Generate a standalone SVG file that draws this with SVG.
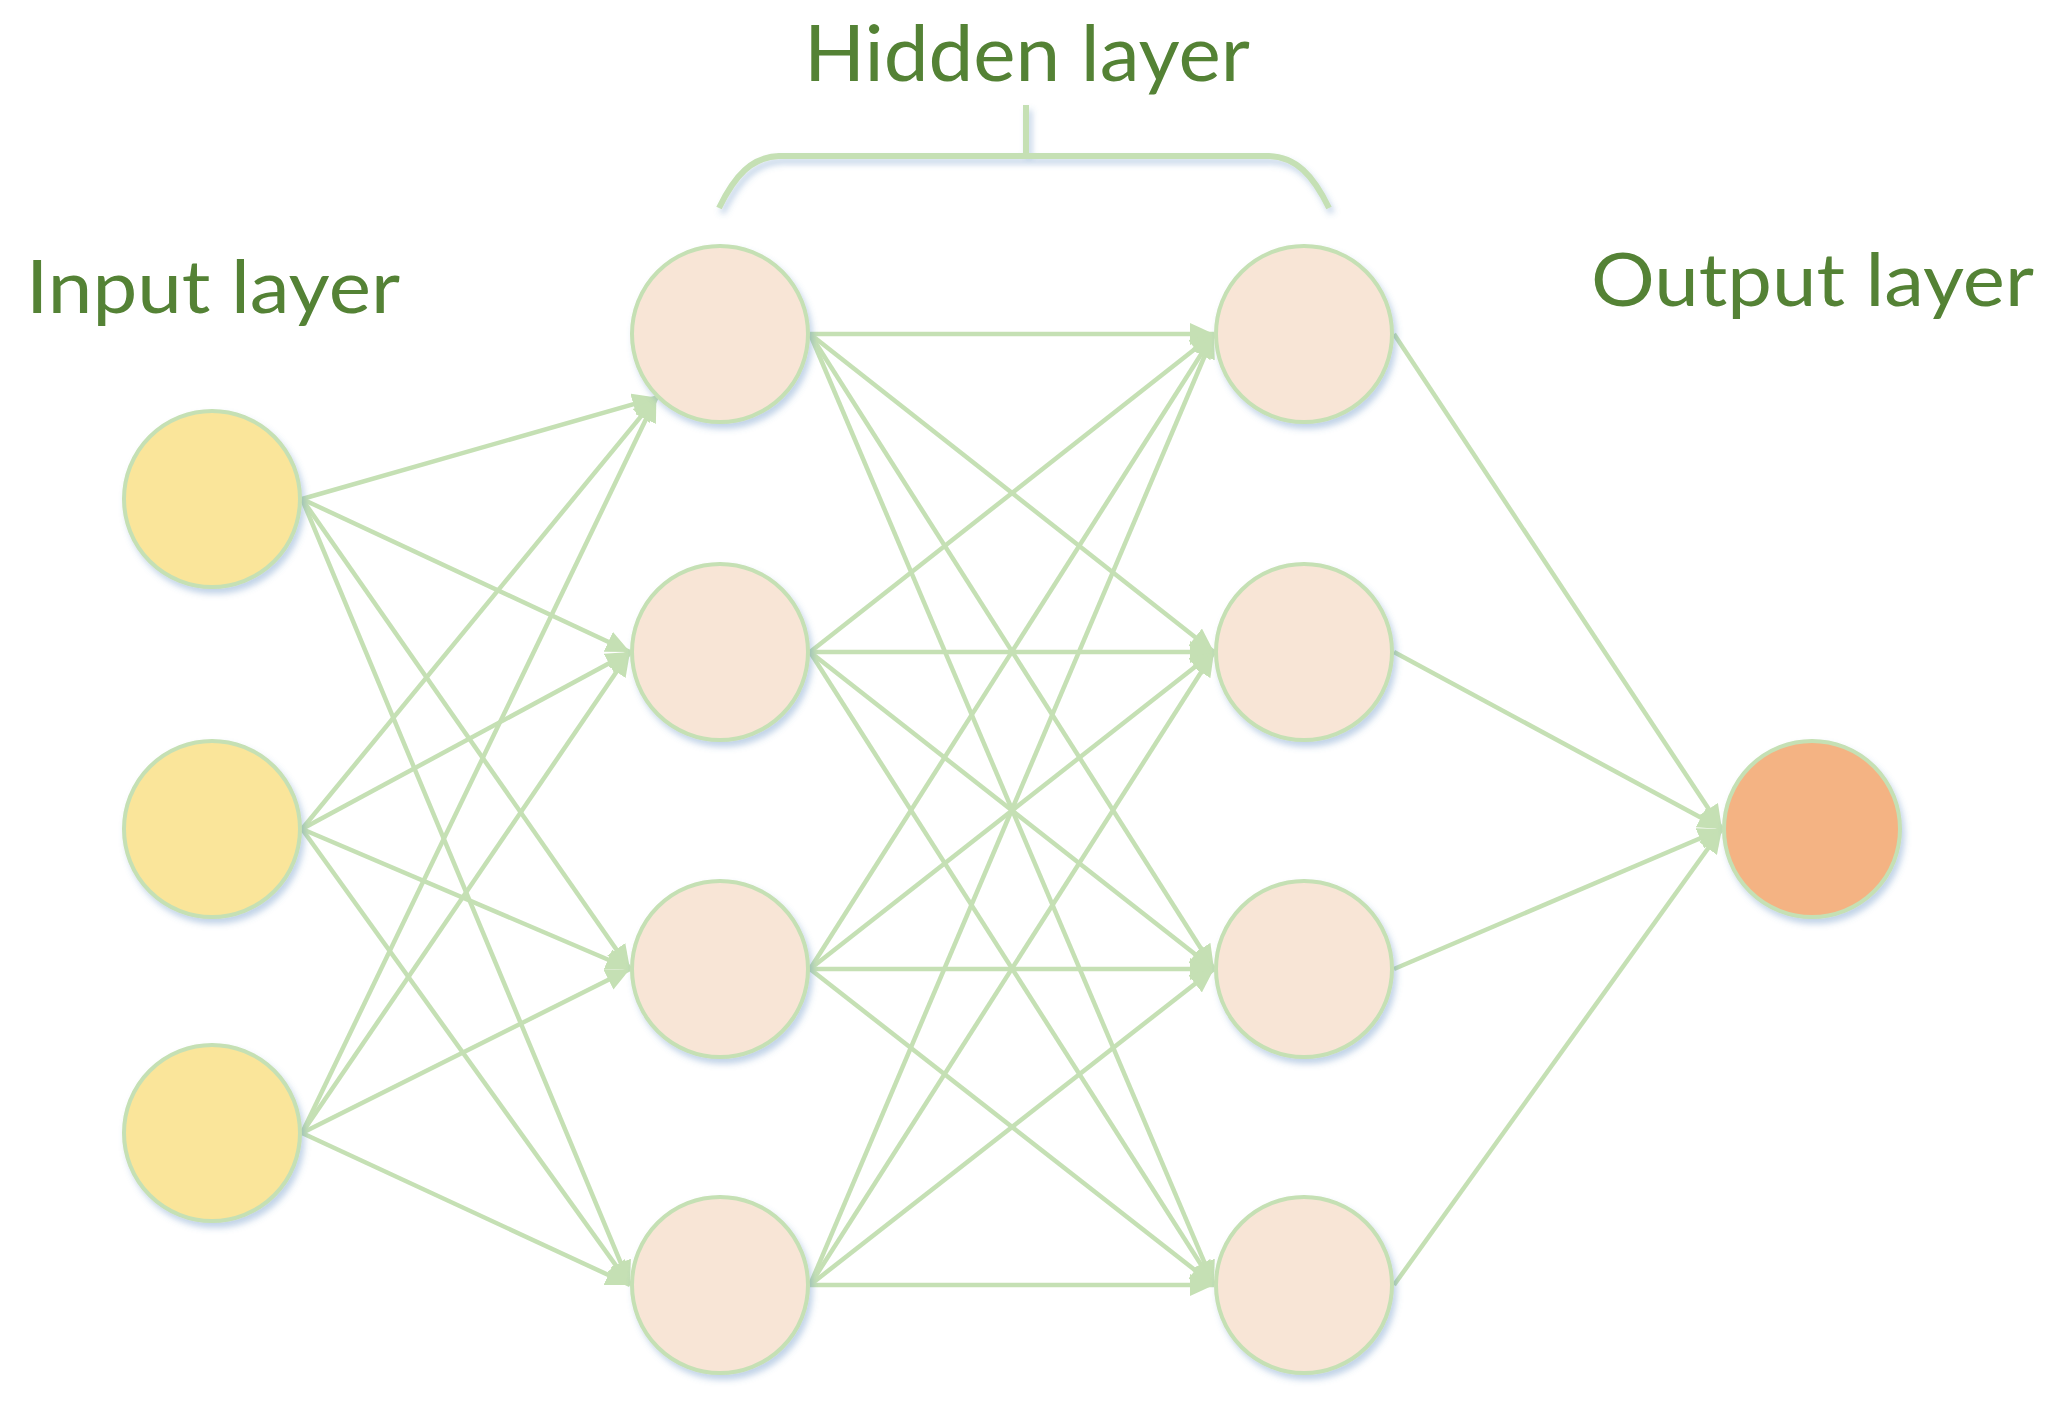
<svg xmlns="http://www.w3.org/2000/svg" width="2060" height="1406" viewBox="0 0 2060 1406">
<style>
.lbl{font-family:Lato,"Liberation Sans",sans-serif;fill:#548235;}
.edge{stroke:#c5e0b4;stroke-width:4.5;fill:none;marker-end:url(#arr);}
.node{stroke:#c5e0b4;stroke-width:4;filter:url(#sh);}
.in{fill:#fae59a;}
.hid{fill:#f8e5d6;}
.out{fill:#f4b383;}
.brace{stroke:#c5e0b4;stroke-width:6;fill:none;filter:url(#sh);}
</style>
<defs>
<marker id="arr" markerUnits="userSpaceOnUse" markerWidth="24" markerHeight="22" refX="24" refY="11" orient="auto">
<path d="M0,0 L24,11 L0,22 Z" fill="#c5e0b4"/>
</marker>
<filter id="sh" x="-20%" y="-20%" width="140%" height="150%">
<feDropShadow dx="3" dy="5" stdDeviation="3" flood-color="#4f81bd" flood-opacity="0.35"/>
</filter>
</defs>
<rect width="2060" height="1406" fill="#ffffff"/>

<g id="labels">
<text class="lbl" x="26" y="313" font-size="74" textLength="374" lengthAdjust="spacingAndGlyphs">Input layer</text>
<text class="lbl" x="804" y="81" font-size="78" textLength="446" lengthAdjust="spacingAndGlyphs">Hidden layer</text>
<text class="lbl" x="1591" y="306" font-size="74" textLength="443" lengthAdjust="spacingAndGlyphs">Output layer</text>
</g>

<g id="hidden-brace">
<path class="brace" d="M1026,105 L1026,156 M719,208 C735,175 752,157 779,156 L1269,156 C1296,157 1313,175 1329,208"/>
</g>

<g id="connectors">
<line class="edge" x1="302" y1="499" x2="656.4" y2="397.6"/>
<line class="edge" x1="302" y1="499" x2="630" y2="652"/>
<line class="edge" x1="302" y1="499" x2="630" y2="969"/>
<line class="edge" x1="302" y1="499" x2="630" y2="1285"/>
<line class="edge" x1="302" y1="829" x2="656.4" y2="397.6"/>
<line class="edge" x1="302" y1="829" x2="630" y2="652"/>
<line class="edge" x1="302" y1="829" x2="630" y2="969"/>
<line class="edge" x1="302" y1="829" x2="630" y2="1285"/>
<line class="edge" x1="302" y1="1133" x2="656.4" y2="397.6"/>
<line class="edge" x1="302" y1="1133" x2="630" y2="652"/>
<line class="edge" x1="302" y1="1133" x2="630" y2="969"/>
<line class="edge" x1="302" y1="1133" x2="630" y2="1285"/>

<line class="edge" x1="810" y1="334" x2="1214" y2="334"/>
<line class="edge" x1="810" y1="334" x2="1214" y2="652"/>
<line class="edge" x1="810" y1="334" x2="1214" y2="969"/>
<line class="edge" x1="810" y1="334" x2="1214" y2="1285"/>
<line class="edge" x1="810" y1="652" x2="1214" y2="334"/>
<line class="edge" x1="810" y1="652" x2="1214" y2="652"/>
<line class="edge" x1="810" y1="652" x2="1214" y2="969"/>
<line class="edge" x1="810" y1="652" x2="1214" y2="1285"/>
<line class="edge" x1="810" y1="969" x2="1214" y2="334"/>
<line class="edge" x1="810" y1="969" x2="1214" y2="652"/>
<line class="edge" x1="810" y1="969" x2="1214" y2="969"/>
<line class="edge" x1="810" y1="969" x2="1214" y2="1285"/>
<line class="edge" x1="810" y1="1285" x2="1214" y2="334"/>
<line class="edge" x1="810" y1="1285" x2="1214" y2="652"/>
<line class="edge" x1="810" y1="1285" x2="1214" y2="969"/>
<line class="edge" x1="810" y1="1285" x2="1214" y2="1285"/>

<line class="edge" x1="1394" y1="334" x2="1722" y2="829"/>
<line class="edge" x1="1394" y1="652" x2="1722" y2="829"/>
<line class="edge" x1="1394" y1="969" x2="1722" y2="829"/>
<line class="edge" x1="1394" y1="1285" x2="1722" y2="829"/>
</g>

<g id="input-1"><circle class="node in" cx="212" cy="499" r="88"/></g>
<g id="input-2"><circle class="node in" cx="212" cy="829" r="88"/></g>
<g id="input-3"><circle class="node in" cx="212" cy="1133" r="88"/></g>

<g id="hidden1-1"><circle class="node hid" cx="720" cy="334" r="88"/></g>
<g id="hidden1-2"><circle class="node hid" cx="720" cy="652" r="88"/></g>
<g id="hidden1-3"><circle class="node hid" cx="720" cy="969" r="88"/></g>
<g id="hidden1-4"><circle class="node hid" cx="720" cy="1285" r="88"/></g>

<g id="hidden2-1"><circle class="node hid" cx="1304" cy="334" r="88"/></g>
<g id="hidden2-2"><circle class="node hid" cx="1304" cy="652" r="88"/></g>
<g id="hidden2-3"><circle class="node hid" cx="1304" cy="969" r="88"/></g>
<g id="hidden2-4"><circle class="node hid" cx="1304" cy="1285" r="88"/></g>

<g id="output-1"><circle class="node out" cx="1812" cy="829" r="88"/></g>
</svg>
